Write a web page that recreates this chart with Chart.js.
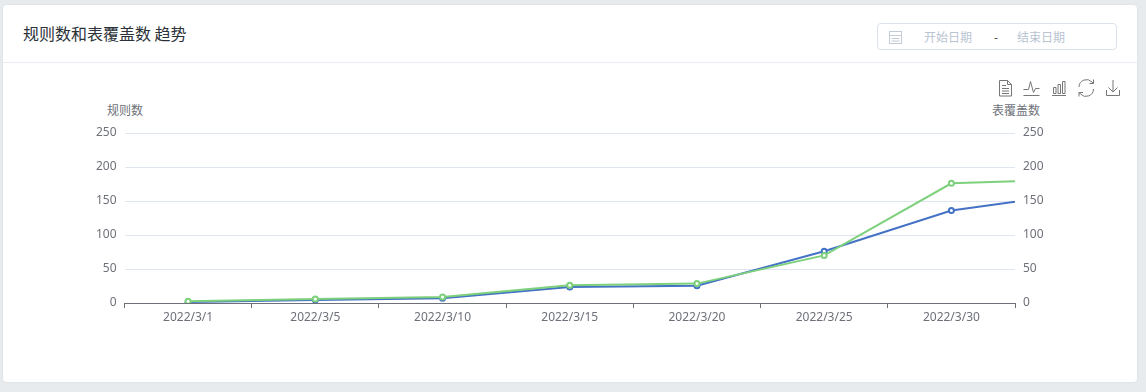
<!DOCTYPE html>
<html lang="zh-CN">
<head>
<meta charset="utf-8">
<title>规则数和表覆盖数 趋势</title>
<script src="https://cdn.jsdelivr.net/npm/chart.js@4/dist/chart.umd.min.js"></script>
<style>
  html, body { margin: 0; padding: 0; }
  body {
    position: relative; width: 1146px; height: 392px; overflow: hidden;
    background: #e8ebee;
    font-family: "Noto Sans CJK SC", "Noto Sans", sans-serif;
  }
  #card {
    position: absolute; left: 3px; top: 5px; width: 1134px; height: 377px;
    background: #fff; border-radius: 4px; box-shadow: 0 0 3px rgba(0,0,0,.06);
  }
  #divider { position: absolute; left: 3px; top: 62px; width: 1134px; height: 1px; background: #e8edf3; }
  #title { position: absolute; left: 23px; top: 22px; font-size: 16px; line-height: 22px; color: #2a3138; }
  #picker {
    position: absolute; left: 877px; top: 23px; width: 238px; height: 25px;
    border: 1px solid #dce2ea; border-radius: 4px;
  }
  .ph { position: absolute; top: 29px; font-size: 12px; line-height: 16px; color: #b8c4d2; }
  .axisName { position: absolute; top: 102px; font-size: 12px; line-height: 16px; color: #6e7079; }
  canvas { position: absolute; left: 0; top: 0; }
  svg { position: absolute; left: 0; top: 0; }
</style>
</head>
<body>
<div id="card"></div>
<div id="divider"></div>
<div id="title">规则数和表覆盖数 趋势</div>
<div id="picker"></div>
<span class="ph" style="left:924px">开始日期</span>
<span class="ph" style="left:994px;color:#444">-</span>
<span class="ph" style="left:1017px">结束日期</span>
<span class="axisName" style="left:107px">规则数</span>
<span class="axisName" style="left:992px">表覆盖数</span>
<canvas id="trendChart" width="1146" height="392"></canvas>
<svg width="1146" height="392" fill="none">
  <!-- 日历图标 -->
  <g stroke="#c3ccd6">
    <rect x="889.5" y="31.5" width="12" height="12"/>
    <path d="M889.5 35.5h12M891.5 38.5h8M891.5 41h8"/>
  </g>
  <!-- 工具栏图标 -->
  <g stroke="#777">
    <path d="M999.5 80.5h8l4 4v11.5h-12zM1007.5 80.5v4h4M1002 85.5h4M1002 88.5h7M1002 91h7M1002 93.5h7"/>
    <path d="M1023.5 95.5h16M1023.5 89.5h5l2-8 3 11 2-4h4"/>
    <path d="M1052 95.5h14M1053.5 87.5h2.5v6h-2.5zM1058 84.5h2.5v9h-2.5zM1062.5 81.5h2.5v12h-2.5z"/>
    <path d="M1079 87a7.5 7.5 0 0 1 13-5l1.500 1.500M1093.500 89a7.500 7.500 0 0 1-13 5l-1.500-1.500M1093.500 79.500v4h-4M1079 96.500v-4h4"/>
    <path d="M1113 80v12M1108.500 87.500l4.500 4.500 4.500-4.500M1106.500 90v5.500h13V90"/>
  </g>
</svg>
<script>
// data; the last value sits one step past the right edge and gets clipped
const categories = ['2022/3/1', '2022/3/5', '2022/3/10', '2022/3/15', '2022/3/20', '2022/3/25', '2022/3/30'];
const ruleCounts = [1.5, 4.5, 7, 23.5, 25.5, 76, 136, 162];
const tableCounts = [2.5, 6, 9, 26, 28.5, 70, 176, 182];
const yMax = 250;
const yStep = 50;

const fontFamily = '"Noto Sans", "Noto Sans CJK SC", sans-serif';
const labelColor = '#6e7079';

function lineDataset(label, values, color, axisId) {
  return {
    label,
    data: values.map((y, x) => ({ x, y })),
    yAxisID: axisId,
    clip: 0,
    borderColor: color,
    borderWidth: 2,
    pointBackgroundColor: '#fff',
    pointBorderColor: color,
    pointBorderWidth: 2,
    pointRadius: 2.5,
    tension: 0
  };
}

function valueAxis(position, width, showGrid) {
  return {
    position,
    min: 0,
    max: yMax,
    afterFit: scale => { scale.width = width; },
    border: { display: false },
    grid: { display: showGrid, color: '#e0e6f1', drawTicks: false },
    ticks: { stepSize: yStep, padding: 8, color: labelColor, font: { family: fontFamily, size: 12 } }
  };
}

new Chart(document.getElementById('trendChart'), {
  type: 'line',
  data: {
    // first dataset is painted last, green lies over blue in the reference
    datasets: [
      lineDataset('表覆盖数', tableCounts, '#7dd07c', 'y1'),
      lineDataset('规则数', ruleCounts, '#4472c5', 'y')
    ]
  },
  options: {
    responsive: false,
    animation: false,
    layout: { padding: { top: 133 } },
    plugins: { legend: { display: false }, tooltip: { enabled: false } },
    scales: {
      // linear so that the extra point past the last label still draws its line segment
      x: {
        type: 'linear',
        min: -0.5,
        max: categories.length - 0.5,
        afterBuildTicks: scale => { scale.ticks = categories.map((c, i) => ({ value: i })); },
        afterFit: scale => { scale.height = 89; },
        border: { display: true, color: labelColor },
        grid: { offset: true, drawOnChartArea: false, tickLength: 5, tickColor: labelColor },
        ticks: {
          autoSkip: false,
          maxRotation: 0,
          padding: 2,
          color: labelColor,
          font: { family: fontFamily, size: 12 },
          callback: value => categories[value]
        }
      },
      y: valueAxis('left', 124.5, true),
      y1: valueAxis('right', 131, false)
    }
  }
});
</script>
</body>
</html>
